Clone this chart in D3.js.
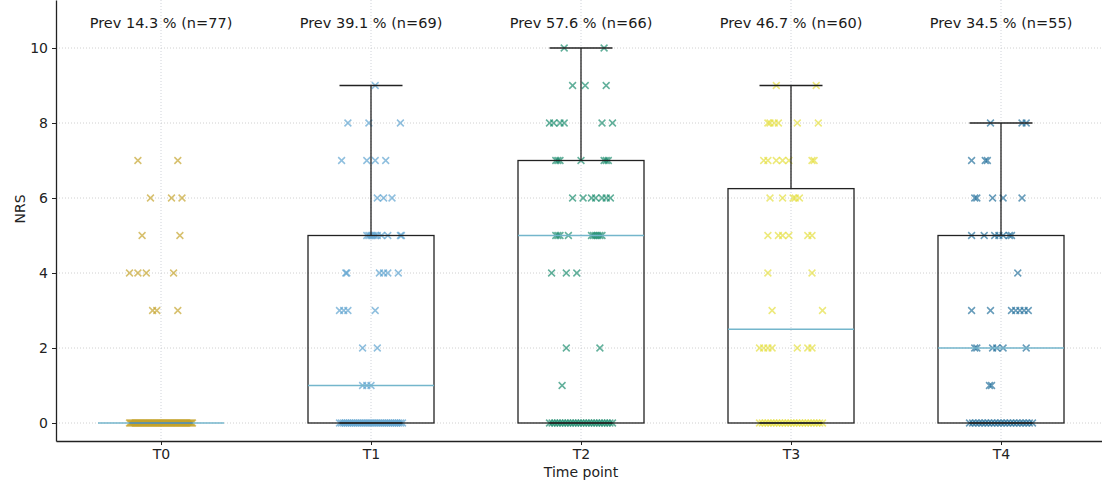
<!DOCTYPE html>
<html>
<head>
<meta charset="utf-8">
<script src="https://cdn.jsdelivr.net/npm/d3@7"></script>
<style>
  html, body { margin: 0; padding: 0; background: #fff; }
  svg { display: block; font-family: "DejaVu Sans", sans-serif; }
</style>
</head>
<body>
<svg id="chart" width="1102" height="488"></svg>
<script>
// ---------------- data ----------------
const categories = ["T0", "T1", "T2", "T3", "T4"];
const prevLabels = ["Prev 14.3 % (n=77)", "Prev 39.1 % (n=69)", "Prev 57.6 % (n=66)", "Prev 46.7 % (n=60)", "Prev 34.5 % (n=55)"];
const yTicks = [0, 2, 4, 6, 8, 10];
const zeroCounts = [63, 33, 25, 23, 21];
// non-zero observations: [NRS value, horizontal jitter in category units]
const t0Points = [[7,-0.11],[7,0.08],[6,-0.05],[6,0.05],[6,0.10],[5,-0.09],[5,0.09],
  [4,-0.15],[4,-0.11],[4,-0.07],[4,0.06],[3,-0.04],[3,-0.02],[3,0.08]];
const t1Points = [[9,0.02],[8,-0.11],[8,-0.01],[8,0.14],[7,-0.14],[7,-0.02],[7,0.02],[7,0.07],
  [6,0.03],[6,0.06],[6,0.10],
  [5,-0.02],[5,-0.01],[5,0.0],[5,0.01],[5,0.02],[5,0.03],[5,0.05],[5,0.08],[5,0.14],[5,0.145],
  [4,-0.12],[4,-0.115],[4,0.04],[4,0.06],[4,0.08],[4,0.13],
  [3,-0.15],[3,-0.13],[3,-0.11],[3,0.02],[2,-0.04],[2,0.03],[1,-0.04],[1,-0.02],[1,0.0]];
const t2Points = [[10,-0.08],[10,0.11],[9,-0.04],[9,0.02],[9,0.12],
  [8,-0.15],[8,-0.13],[8,-0.10],[8,-0.08],[8,0.10],[8,0.15],
  [7,-0.12],[7,-0.11],[7,-0.10],[7,0.0],[7,0.11],[7,0.12],[7,0.13],
  [6,-0.04],[6,0.01],[6,0.05],[6,0.07],[6,0.10],[6,0.12],[6,0.14],
  [5,-0.12],[5,-0.11],[5,-0.10],[5,-0.06],[5,0.05],[5,0.06],[5,0.07],[5,0.08],[5,0.09],[5,0.10],
  [4,-0.14],[4,-0.07],[4,-0.02],[2,-0.07],[2,0.09],[1,-0.09]];
const t3Points = [[9,-0.07],[9,0.12],
  [8,-0.11],[8,-0.10],[8,-0.08],[8,-0.06],[8,0.03],[8,0.13],
  [7,-0.13],[7,-0.11],[7,-0.07],[7,-0.04],[7,-0.01],[7,0.10],[7,0.11],
  [6,-0.10],[6,-0.04],[6,0.01],[6,0.02],[6,0.04],
  [5,-0.11],[5,-0.06],[5,-0.04],[5,-0.01],[5,0.08],[5,0.10],
  [4,-0.11],[4,0.10],[3,-0.09],[3,0.15],
  [2,-0.15],[2,-0.13],[2,-0.11],[2,-0.09],[2,0.03],[2,0.08],[2,0.10]];
const t4Points = [[8,-0.05],[8,0.10],[8,0.12],[7,-0.14],[7,-0.075],[7,-0.065],
  [6,-0.125],[6,-0.115],[6,-0.04],[6,0.01],[6,0.10],
  [5,-0.14],[5,-0.08],[5,-0.03],[5,-0.01],[5,0.01],[5,0.04],[5,0.05],
  [4,0.08],
  [3,-0.14],[3,-0.05],[3,0.05],[3,0.07],[3,0.09],[3,0.11],[3,0.13],
  [2,-0.125],[2,-0.115],[2,-0.04],[2,-0.02],[2,0.01],[2,0.12],[1,-0.055],[1,-0.045]];
const groupPoints = [t0Points, t1Points, t2Points, t3Points, t4Points];
const colors = ["#c4a229", "#5aa0cf", "#178a6c", "#e4de3c", "#1f6d99"];

// ---------------- layout ----------------
const svg = d3.select("#chart");
const x = d3.scaleLinear().domain([-0.5, 4.5]).range([56, 1106]);
const y = d3.scaleLinear().domain([-0.48, 11.28]).range([441, 0]);
const boxW = 0.6, capW = 0.3, jitterSpan = 0.15;

// build full observation lists (zeros spread evenly across jitter band)
const groups = categories.map((c, i) => {
  const zeros = d3.range(zeroCounts[i]).map(k => [0, -jitterSpan + 2 * jitterSpan * (k / (zeroCounts[i] - 1))]);
  const pts = zeros.concat(groupPoints[i]);
  const vals = pts.map(p => p[0]).sort(d3.ascending);
  const q1 = d3.quantileSorted(vals, 0.25), med = d3.quantileSorted(vals, 0.5), q3 = d3.quantileSorted(vals, 0.75);
  const iqr = q3 - q1;
  const hiW = d3.max(vals.filter(v => v <= q3 + 1.5 * iqr));
  const loW = d3.min(vals.filter(v => v >= q1 - 1.5 * iqr));
  return { i, c, pts, q1, med, q3, hiW, loW };
});

// grid
const grid = svg.append("g");
grid.selectAll("line.h").data(yTicks).join("line")
  .attr("x1", x(-0.5)).attr("x2", x(4.5)).attr("y1", d => y(d)).attr("y2", d => y(d))
  .attr("stroke", "#c4c4c4").attr("stroke-width", 0.8).attr("stroke-dasharray", "1,2");
grid.selectAll("line.v").data(categories).join("line")
  .attr("x1", (d, i) => x(i)).attr("x2", (d, i) => x(i)).attr("y1", y.range()[1]).attr("y2", y.range()[0])
  .attr("stroke", "#c4c8d0").attr("stroke-width", 0.8).attr("stroke-dasharray", "1,2");

// points (x markers)
const ms = 3.4;
groups.forEach(g => {
  const gg = svg.append("g").attr("stroke", colors[g.i]).attr("stroke-width", 1.5).attr("stroke-opacity", 0.68);
  gg.selectAll("path").data(g.pts).join("path")
    .attr("d", p => {
      const cx = x(g.i + p[1]), cy = y(p[0]);
      return `M${cx - ms},${cy - ms}L${cx + ms},${cy + ms}M${cx - ms},${cy + ms}L${cx + ms},${cy - ms}`;
    });
});

// boxes
groups.forEach(g => {
  const bg = svg.append("g").attr("fill", "none");
  bg.append("rect")
    .attr("x", x(g.i - boxW / 2)).attr("width", x(g.i + boxW / 2) - x(g.i - boxW / 2))
    .attr("y", y(g.q3)).attr("height", y(g.q1) - y(g.q3))
    .attr("stroke", "#222").attr("stroke-width", 1.3);
  bg.append("line").attr("x1", x(g.i)).attr("x2", x(g.i)).attr("y1", y(g.q3)).attr("y2", y(g.hiW))
    .attr("stroke", "#222").attr("stroke-width", 1.3);
  bg.append("line").attr("x1", x(g.i)).attr("x2", x(g.i)).attr("y1", y(g.q1)).attr("y2", y(g.loW))
    .attr("stroke", "#222").attr("stroke-width", 1.3);
  [g.hiW, g.loW].forEach(v => {
    bg.append("line").attr("x1", x(g.i - capW / 2)).attr("x2", x(g.i + capW / 2)).attr("y1", y(v)).attr("y2", y(v))
      .attr("stroke", "#222").attr("stroke-width", 1.3);
  });
  bg.append("line").attr("x1", x(g.i - boxW / 2)).attr("x2", x(g.i + boxW / 2)).attr("y1", y(g.med)).attr("y2", y(g.med))
    .attr("stroke", "#74b6cc").attr("stroke-width", 1.3);
});

// axes
const yAxis = d3.axisLeft(y).tickValues(yTicks).tickSize(4).tickSizeOuter(0).tickPadding(4);
const yg = svg.append("g").attr("transform", `translate(${x(-0.5)},0)`).call(yAxis);
const xAxis = d3.axisBottom(x).tickValues(d3.range(categories.length)).tickFormat(i => categories[i]).tickSize(4).tickSizeOuter(0).tickPadding(4);
const xg = svg.append("g").attr("transform", `translate(0,${y(-0.48)})`).call(xAxis);
[yg, xg].forEach(a => {
  a.select(".domain").attr("stroke", "#222").attr("stroke-width", 1.3);
  a.selectAll(".tick line").attr("stroke", "#222");
  a.selectAll(".tick text").attr("fill", "#222").style("font-size", "14px").style("font-family", "DejaVu Sans");
});

// prevalence labels
svg.append("g").selectAll("text").data(prevLabels).join("text")
  .attr("x", (d, i) => x(i)).attr("y", 28).attr("text-anchor", "middle")
  .attr("fill", "#1a1a1a").style("font-size", "14.5px").text(d => d);

// axis titles
svg.append("text").attr("x", 581).attr("y", 477).attr("text-anchor", "middle")
  .attr("fill", "#222").style("font-size", "14px").text("Time point");
svg.append("text").attr("transform", "translate(25,209) rotate(-90)").attr("text-anchor", "middle")
  .attr("fill", "#222").style("font-size", "14px").text("NRS");
</script>
</body>
</html>
